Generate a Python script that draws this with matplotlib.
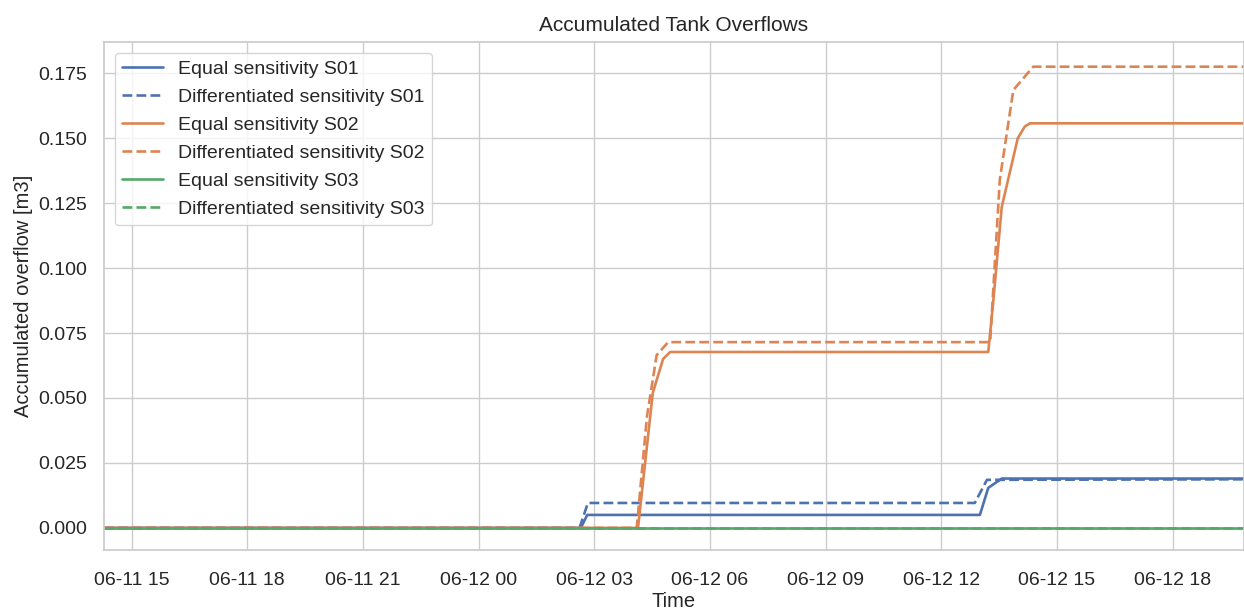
import numpy as np
import pandas as pd
import matplotlib
matplotlib.use("Agg")
import matplotlib.pyplot as plt
import matplotlib.dates as mdates
import seaborn as sns

# breakpoints of the accumulated overflow curves (time, m3)
t_start = "2023-06-11 14:17"
t_end = "2023-06-12 19:51"

s01_eq_t = [t_start, "2023-06-12 02:39", "2023-06-12 02:49", "2023-06-12 13:00",
            "2023-06-12 13:13", "2023-06-12 13:34", t_end]
s01_eq_v = [0.0, 0.0, 0.005, 0.005, 0.0154, 0.019, 0.019]

s01_diff_t = [t_start, "2023-06-12 02:37", "2023-06-12 02:50", "2023-06-12 12:52",
              "2023-06-12 13:11", t_end]
s01_diff_v = [0.0, 0.0, 0.0096, 0.0096, 0.0185, 0.0187]

s02_eq_t = [t_start, "2023-06-12 04:08", "2023-06-12 04:31", "2023-06-12 04:47",
            "2023-06-12 04:58", "2023-06-12 13:13", "2023-06-12 13:20",
            "2023-06-12 13:34", "2023-06-12 13:59", "2023-06-12 14:10",
            "2023-06-12 14:18", t_end]
s02_eq_v = [0.0, 0.0, 0.052, 0.065, 0.0677, 0.0677, 0.085,
            0.1235, 0.150, 0.1545, 0.1557, 0.1557]

s02_diff_t = [t_start, "2023-06-12 04:06", "2023-06-12 04:22", "2023-06-12 04:37",
              "2023-06-12 04:55", "2023-06-12 13:16", "2023-06-12 13:31",
              "2023-06-12 13:52", "2023-06-12 14:23", t_end]
s02_diff_v = [0.0, 0.0, 0.043, 0.0665, 0.0715, 0.0715, 0.134,
              0.1685, 0.1775, 0.1775]

s03_eq_t = [t_start, t_end]
s03_eq_v = [0.0, 0.0]
s03_diff_t = [t_start, t_end]
s03_diff_v = [0.0, 0.0]

sns.set_theme(style="whitegrid")
plt.rcParams['font.family'] = ['Liberation Sans', 'DejaVu Sans']

colors = sns.color_palette("deep")

fig = plt.figure(figsize=(12.44, 6.10), dpi=100)
ax = fig.add_axes([104 / 1244, 1 - 550 / 610, 1 - 104 / 1244, (550 - 42) / 610])

series = [
    ("Equal sensitivity S01", s01_eq_t, s01_eq_v, colors[0], "-"),
    ("Differentiated sensitivity S01", s01_diff_t, s01_diff_v, colors[0], "--"),
    ("Equal sensitivity S02", s02_eq_t, s02_eq_v, colors[1], "-"),
    ("Differentiated sensitivity S02", s02_diff_t, s02_diff_v, colors[1], "--"),
    ("Equal sensitivity S03", s03_eq_t, s03_eq_v, colors[2], "-"),
    ("Differentiated sensitivity S03", s03_diff_t, s03_diff_v, colors[2], "--"),
]
for name, t, v, c, ls in series:
    ax.plot(pd.to_datetime(t), v, color=c, linestyle=ls, linewidth=1.9, label=name)

ax.set_xlim(pd.Timestamp(t_start), pd.Timestamp(t_end))
ax.set_ylim(-0.0085, 0.187)
ax.set_yticks(np.arange(0, 0.176, 0.025))
ax.yaxis.set_major_formatter(matplotlib.ticker.FormatStrFormatter('%.3f'))
ax.xaxis.set_major_locator(mdates.HourLocator(byhour=range(0, 24, 3)))
ax.xaxis.set_major_formatter(mdates.DateFormatter('%m-%d %H'))
ax.tick_params(axis="x", labelsize=14, pad=10)
ax.tick_params(axis="y", labelsize=14, pad=6)

ax.set_title("Accumulated Tank Overflows", fontsize=15, pad=8)
ax.set_xlabel("Time", fontsize=14.5, labelpad=2)
ax.set_ylabel("Accumulated overflow [m3]", fontsize=14.5, labelpad=4)
ax.legend(loc="upper left", fontsize=14, handlelength=2.1, handletextpad=0.75,
          borderaxespad=0.55, labelspacing=0.53)

fig.savefig("out.png", dpi=100)
